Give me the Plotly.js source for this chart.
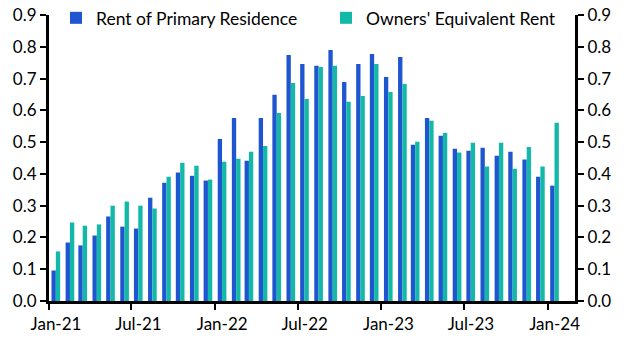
<!DOCTYPE html>
<html>
<head>
<meta charset="utf-8">
<script src="https://cdn.plot.ly/plotly-3.0.1.min.js"></script>
<style>html,body{margin:0;padding:0;background:#fff;}#chart{width:627px;height:352px;}</style>
</head>
<body>
<div id="chart"></div>
<script>
// Monthly dates (mid-month), Jan-2021 .. Jan-2024
const months = [
  "2021-01","2021-02","2021-03","2021-04","2021-05","2021-06","2021-07","2021-08","2021-09","2021-10","2021-11","2021-12",
  "2022-01","2022-02","2022-03","2022-04","2022-05","2022-06","2022-07","2022-08","2022-09","2022-10","2022-11","2022-12",
  "2023-01","2023-02","2023-03","2023-04","2023-05","2023-06","2023-07","2023-08","2023-09","2023-10","2023-11","2023-12",
  "2024-01"
];
const rentPrimary = [
  0.096,0.184,0.175,0.206,0.266,0.234,0.228,0.325,0.372,0.404,0.394,0.379,
  0.510,0.576,0.441,0.576,0.649,0.774,0.746,0.740,0.790,0.689,0.746,0.777,
  0.705,0.768,0.492,0.576,0.520,0.479,0.473,0.482,0.457,0.470,0.445,0.391,
  0.363
];
const oer = [
  0.156,0.247,0.237,0.241,0.300,0.313,0.300,0.291,0.391,0.435,0.426,0.382,
  0.438,0.448,0.470,0.488,0.592,0.686,0.636,0.736,0.740,0.627,0.645,0.746,
  0.658,0.683,0.501,0.567,0.529,0.467,0.498,0.423,0.498,0.416,0.485,0.423,
  0.561
];
const tickVals = ["2021-01-01","2021-07-01","2022-01-01","2022-07-01","2023-01-01","2023-07-01","2024-01-01"];
const tickText = ["Jan-21","Jul-21","Jan-22","Jul-22","Jan-23","Jul-23","Jan-24"];
const yTicks = [0,0.1,0.2,0.3,0.4,0.5,0.6,0.7,0.8,0.9];
const yTickText = ["0.0","0.1","0.2","0.3","0.4","0.5","0.6","0.7","0.8","0.9"];

const xDates = months.map(m => m + "-16");
const FONT = "Lato, 'Open Sans', sans-serif";

const traces = [
  {type:"bar", name:"Rent of Primary Residence", x:xDates, y:rentPrimary, marker:{color:"#1f56d0"}, legend:"legend"},
  {type:"bar", name:"Owners' Equivalent Rent", x:xDates, y:oer, marker:{color:"#12b9a8"}, legend:"legend2"}
];

const axisY = {
  range:[0,0.9], tickvals:yTicks, ticktext:yTickText, showgrid:false, zeroline:false,
  showline:true, linecolor:"#000", linewidth:3, ticks:"outside", ticklen:6, tickwidth:2, tickcolor:"#000",
  tickfont:{family:FONT, size:17, color:"#000"}, fixedrange:true
};

const legendBase = {orientation:"h", yref:"container", y:0.949, xanchor:"left", yanchor:"middle",
  font:{family:FONT, size:17.5, color:"#000"}, bgcolor:"rgba(0,0,0,0)", itemwidth:30};

const layout = {
  width:627, height:352,
  margin:{l:49, r:52, t:15, b:51, autoexpand:false},
  paper_bgcolor:"#fff", plot_bgcolor:"#fff",
  barmode:"group", bargap:0.32, bargroupgap:0,
  font:{family:FONT, size:17, color:"#000"},
  showlegend:true,
  legend:Object.assign({x:0.0133}, legendBase),
  legend2:Object.assign({x:0.5266}, legendBase),
  xaxis:{type:"date", range:["2021-01-01","2024-03-01"], tickvals:tickVals, ticktext:tickText,
    showgrid:false, zeroline:false, showline:true, linecolor:"#000", linewidth:3,
    ticks:"outside", ticklen:6, tickwidth:2, tickcolor:"#000", ticklabelshift:7,
    tickfont:{family:FONT, size:17, color:"#000"}},
  yaxis:Object.assign({side:"left"}, axisY),
  yaxis2:Object.assign({side:"right", overlaying:"y", matches:"y"}, axisY)
};

// invisible helper trace so the right-hand axis is drawn
traces.push({type:"scatter", x:[xDates[0]], y:[0], yaxis:"y2", mode:"markers", marker:{opacity:0}, showlegend:false, hoverinfo:"skip"});

Plotly.newPlot("chart", traces, layout, {displayModeBar:false, staticPlot:true});
</script>
</body>
</html>
